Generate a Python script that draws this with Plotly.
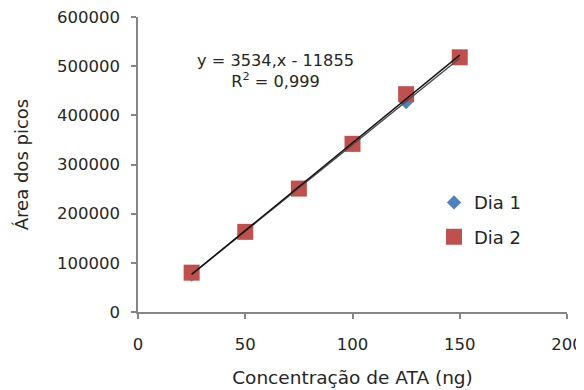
import numpy as np
import plotly.graph_objects as go

conc = [25, 50, 75, 100, 125, 150]
dia1 = [76000, 165000, 252000, 340000, 427000, 517000]
dia2 = [80000, 163000, 251000, 342000, 443000, 518000]
x_ticks = [0, 50, 100, 150, 200]
y_ticks = [0, 100000, 200000, 300000, 400000, 500000, 600000]
eq_text = "y = 3534,x - 11855<br>R<sup>2</sup> = 0,999"

font_family = "DejaVu Sans, Verdana, sans-serif"
txt_col = "#262626"

fig = go.Figure()

fig.add_trace(go.Scatter(x=conc, y=dia1, mode="markers", name="Dia 1", legendgroup="a",
                         marker=dict(symbol="diamond", size=11, color="#4F81BD")))
fig.add_trace(go.Scatter(x=conc, y=dia2, mode="markers", name="Dia 2", legendgroup="b",
                         marker=dict(symbol="square", size=16, color="#C0504D")))

# trendlines computed from the data (drawn on top like Excel)
for vals, col in [(dia1, "#4a4a4a"), (dia2, "#111111")]:
    m, b = np.polyfit(conc, vals, 1)
    xs = [min(conc), max(conc)]
    fig.add_trace(go.Scatter(x=xs, y=[m * v + b for v in xs], mode="lines",
                             line=dict(color=col, width=1.4), showlegend=False,
                             hoverinfo="skip"))

fig.add_annotation(x=64.3, y=490000, xref="x", yref="y", text=eq_text, showarrow=False,
                   font=dict(family=font_family, size=16.2, color=txt_col),
                   align="center")

axis_common = dict(showgrid=False, zeroline=False, showline=True, linecolor="#868686",
                   linewidth=1.5, ticks="outside", ticklen=5, tickcolor="#868686",
                   tickwidth=1.5, ticklabeloverflow="allow",
                   tickfont=dict(family=font_family, size=16.5, color=txt_col))

fig.update_xaxes(range=[0, 200], tickvals=x_ticks, ticktext=[str(v) for v in x_ticks],
                 ticklabelstandoff=11,
                 title=dict(text="Concentração de ATA (ng)", standoff=19,
                            font=dict(family=font_family, size=18.5, color=txt_col)),
                 **axis_common)
fig.update_yaxes(range=[0, 600000], tickvals=y_ticks, ticktext=[str(v) for v in y_ticks],
                 ticklabelstandoff=8,
                 title=dict(text="Área dos picos", standoff=24,
                            font=dict(family=font_family, size=18, color=txt_col)),
                 **axis_common)

fig.update_layout(
    width=584, height=382,
    margin=dict(l=130, r=25, t=9, b=78, autoexpand=False),
    plot_bgcolor="white", paper_bgcolor="white",
    legend=dict(x=0.69, y=0.433, xanchor="left", yanchor="top",
                font=dict(family=font_family, size=18, color=txt_col),
                bgcolor="rgba(0,0,0,0)", tracegroupgap=8, traceorder="grouped",
                itemsizing="trace"),
    showlegend=True,
)

fig.write_html("out.html")
